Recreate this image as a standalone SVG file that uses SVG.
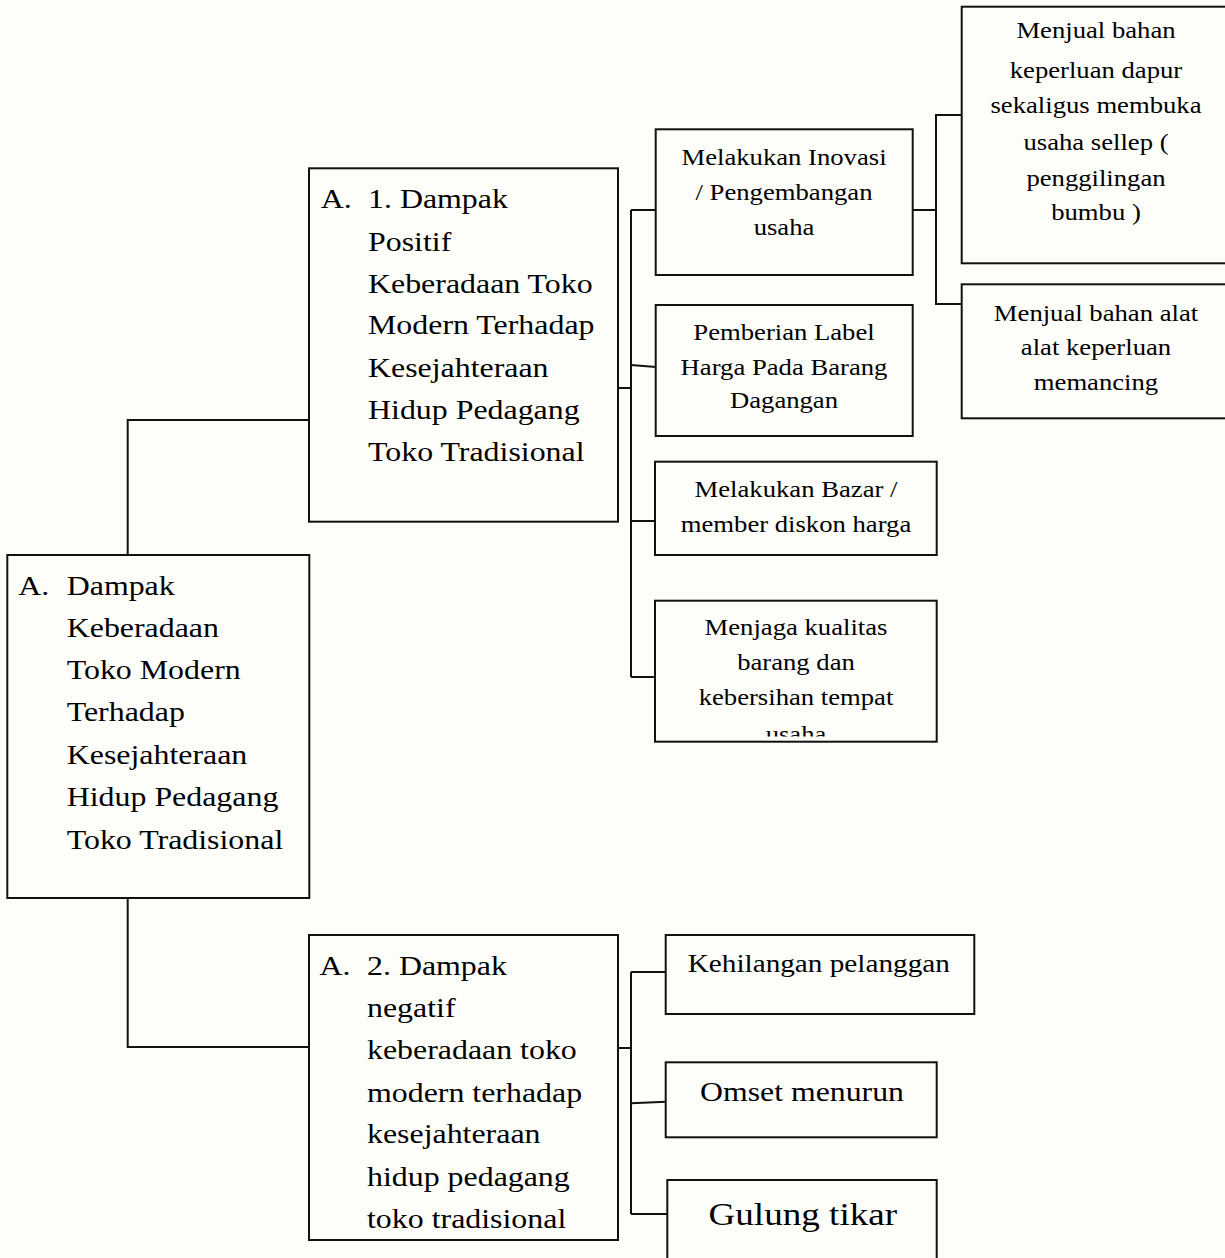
<svg xmlns="http://www.w3.org/2000/svg" width="1225" height="1258" viewBox="0 0 1225 1258">
  <style>
    .box { fill: none; stroke: #111; stroke-width: 2; }
    .con { fill: none; stroke: #111; stroke-width: 2; }
    text { font-family: "Liberation Serif", "Times New Roman", serif; fill: #000; }
    .big { font-size: 27.5px; }
    .sm { font-size: 23px; text-anchor: middle; }
  </style>
  <defs>
    <clipPath id="clipMenjaga"><rect x="655" y="600" width="282" height="136.5"/></clipPath>
  </defs>
  <rect x="0" y="0" width="1225" height="1258" fill="#fdfdfa"/>

  <g id="connectors">
    <polyline class="con" points="309,420 127.7,420 127.7,555"/>
    <polyline class="con" points="127.7,898 127.7,1047 309,1047"/>
    <line class="con" x1="618" y1="388" x2="631" y2="388"/>
    <line class="con" x1="631" y1="210" x2="631" y2="677"/>
    <line class="con" x1="631" y1="210" x2="656" y2="210"/>
    <line class="con" x1="631" y1="365" x2="656" y2="367"/>
    <line class="con" x1="631" y1="521" x2="655" y2="521"/>
    <line class="con" x1="631" y1="677" x2="655" y2="677"/>
    <line class="con" x1="912" y1="210" x2="936" y2="210"/>
    <polyline class="con" points="962,115 936,115 936,304 962,304"/>
    <line class="con" x1="618" y1="1048" x2="631" y2="1048"/>
    <line class="con" x1="631" y1="972" x2="631" y2="1214"/>
    <line class="con" x1="631" y1="972" x2="666" y2="972"/>
    <line class="con" x1="631" y1="1103.3" x2="666" y2="1101.7"/>
    <line class="con" x1="631" y1="1214" x2="668" y2="1214"/>
  </g>

  <g id="node-main">
    <rect class="box" x="7.3" y="555" width="302" height="343"/>
    <g transform="translate(18.3,0) scale(1.16,1)"><text class="big" x="0" y="595">A.</text></g>
    <g transform="translate(66.7,0) scale(1.16,1)">
      <text class="big" x="0" y="595">Dampak</text>
      <text class="big" x="0" y="637">Keberadaan</text>
      <text class="big" x="0" y="679">Toko Modern</text>
      <text class="big" x="0" y="721.5">Terhadap</text>
      <text class="big" x="0" y="764">Kesejahteraan</text>
      <text class="big" x="0" y="806.5">Hidup Pedagang</text>
      <text class="big" x="0" y="848.5">Toko Tradisional</text>
    </g>
  </g>

  <g id="node-a1">
    <rect class="box" x="309" y="168.3" width="309" height="353.4"/>
    <g transform="translate(320.7,0) scale(1.16,1)"><text class="big" x="0" y="208.3">A.</text></g>
    <g transform="translate(368,0) scale(1.16,1)">
      <text class="big" x="0" y="208.3">1. Dampak</text>
      <text class="big" x="0" y="250.7">Positif</text>
      <text class="big" x="0" y="292.7">Keberadaan Toko</text>
      <text class="big" x="0" y="334.5">Modern Terhadap</text>
      <text class="big" x="0" y="376.7">Kesejahteraan</text>
      <text class="big" x="0" y="419">Hidup Pedagang</text>
      <text class="big" x="0" y="461.5">Toko Tradisional</text>
    </g>
  </g>

  <g id="node-a2">
    <rect class="box" x="309" y="935" width="309" height="305"/>
    <g transform="translate(319.6,0) scale(1.16,1)"><text class="big" x="0" y="975">A.</text></g>
    <g transform="translate(367,0) scale(1.16,1)">
      <text class="big" x="0" y="975">2. Dampak</text>
      <text class="big" x="0" y="1016.7">negatif</text>
      <text class="big" x="0" y="1059.5">keberadaan toko</text>
      <text class="big" x="0" y="1101.7">modern terhadap</text>
      <text class="big" x="0" y="1143.5">kesejahteraan</text>
      <text class="big" x="0" y="1186">hidup pedagang</text>
      <text class="big" x="0" y="1227.7">toko tradisional</text>
    </g>
  </g>

  <g id="node-inovasi">
    <rect class="box" x="655.7" y="129.3" width="257" height="145.7"/>
    <g transform="translate(784,0) scale(1.16,1)">
      <text class="sm" x="0" y="165">Melakukan Inovasi</text>
      <text class="sm" x="0" y="200">/ Pengembangan</text>
      <text class="sm" x="0" y="235">usaha</text>
    </g>
  </g>

  <g id="node-label">
    <rect class="box" x="655.7" y="305" width="257" height="131"/>
    <g transform="translate(784,0) scale(1.16,1)">
      <text class="sm" x="0" y="340">Pemberian Label</text>
      <text class="sm" x="0" y="375">Harga Pada Barang</text>
      <text class="sm" x="0" y="408.5">Dagangan</text>
    </g>
  </g>

  <g id="node-bazar">
    <rect class="box" x="655" y="461.7" width="281.7" height="93.3"/>
    <g transform="translate(796,0) scale(1.16,1)">
      <text class="sm" x="0" y="496.7">Melakukan Bazar /</text>
      <text class="sm" x="0" y="531.7">member diskon harga</text>
    </g>
  </g>

  <g id="node-menjaga">
    <rect class="box" x="655" y="600.7" width="281.7" height="141"/>
    <g clip-path="url(#clipMenjaga)">
      <g transform="translate(796,0) scale(1.16,1)">
        <text class="sm" x="0" y="635">Menjaga kualitas</text>
        <text class="sm" x="0" y="670">barang dan</text>
        <text class="sm" x="0" y="705">kebersihan tempat</text>
        <text class="sm" x="0" y="742">usaha</text>
      </g>
    </g>
  </g>

  <g id="node-dapur">
    <rect class="box" x="961.7" y="6.7" width="268" height="256.6"/>
    <g transform="translate(1096,0) scale(1.16,1)">
      <text class="sm" x="0" y="38.5">Menjual bahan</text>
      <text class="sm" x="0" y="78">keperluan dapur</text>
      <text class="sm" x="0" y="113.5">sekaligus membuka</text>
      <text class="sm" x="0" y="150">usaha sellep (</text>
      <text class="sm" x="0" y="186.5">penggilingan</text>
      <text class="sm" x="0" y="220">bumbu )</text>
    </g>
  </g>

  <g id="node-mancing">
    <rect class="box" x="961.7" y="284.3" width="268" height="134"/>
    <g transform="translate(1096,0) scale(1.16,1)">
      <text class="sm" x="0" y="321">Menjual bahan alat</text>
      <text class="sm" x="0" y="355.5">alat keperluan</text>
      <text class="sm" x="0" y="390">memancing</text>
    </g>
  </g>

  <g id="node-pelanggan">
    <rect class="box" x="665.7" y="935" width="308.6" height="79"/>
    <g transform="translate(818.8,0) scale(1.16,1)">
      <text x="0" y="971.7" style="font-size:25.2px;text-anchor:middle">Kehilangan pelanggan</text>
    </g>
  </g>

  <g id="node-omset">
    <rect class="box" x="665.7" y="1062.3" width="271" height="75"/>
    <g transform="translate(802,0) scale(1.16,1)">
      <text x="0" y="1100.7" style="font-size:27.4px;text-anchor:middle">Omset menurun</text>
    </g>
  </g>

  <g id="node-gulung">
    <rect class="box" x="667.3" y="1180" width="269.4" height="90"/>
    <g transform="translate(802.8,0) scale(1.16,1)">
      <text x="0" y="1225" style="font-size:32px;text-anchor:middle">Gulung tikar</text>
    </g>
  </g>
</svg>
